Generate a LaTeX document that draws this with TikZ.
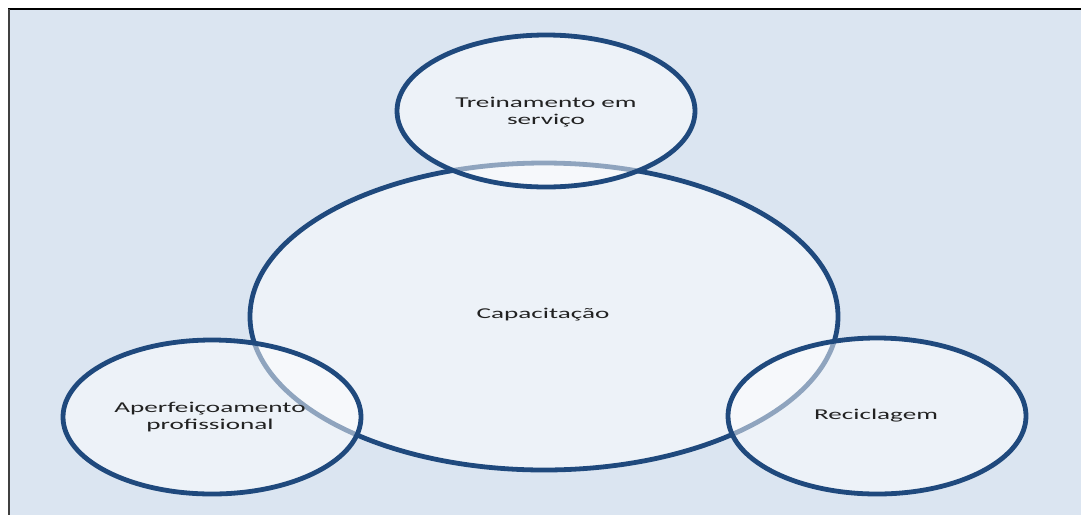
\documentclass[tikz,border=0pt]{standalone}
\usepackage{fontspec}
\newfontfamily\widefont[FakeStretch=1.81]{Carlito}
\definecolor{bg}{HTML}{DBE5F1}
\definecolor{ring}{HTML}{1F497D}
\definecolor{txt}{HTML}{222222}
\begin{document}
\begin{tikzpicture}[x=1pt,y=-1pt,
  ringshape/.style={draw=ring,line width=4.8pt,fill=white,fill opacity=0.5,draw opacity=1},
  lbl/.style={font=\widefont\fontsize{15}{17}\selectfont,text=txt,align=center,inner sep=0pt}]
\useasboundingbox (0,0) rectangle (1081,515);
\fill[bg] (9,9) rectangle (1081,515);
\draw[black,line width=1.6pt] (8,9) -- (1081,9);
\draw[black!75,line width=1.8pt] (9,9) -- (9,515);
% big circle
\path[ringshape] (544,316.5) ellipse [x radius=294, y radius=153.5];
\node[lbl] (cap) at (543,315) {Capacita\c{c}\~ao};
% small circles
\path[ringshape] (546,111) ellipse [x radius=149, y radius=76];
\path[ringshape] (212,417) ellipse [x radius=149, y radius=77];
\path[ringshape] (877,416) ellipse [x radius=149, y radius=78];
\node[lbl] (tre) at (546,112) {Treinamento em\\servi\c{c}o};
\node[lbl] (ape) at (210,417) {Aperfei\c{c}oamento\\profissional};
\node[lbl] (rec) at (876,416) {Reciclagem};
\end{tikzpicture}
\end{document}
